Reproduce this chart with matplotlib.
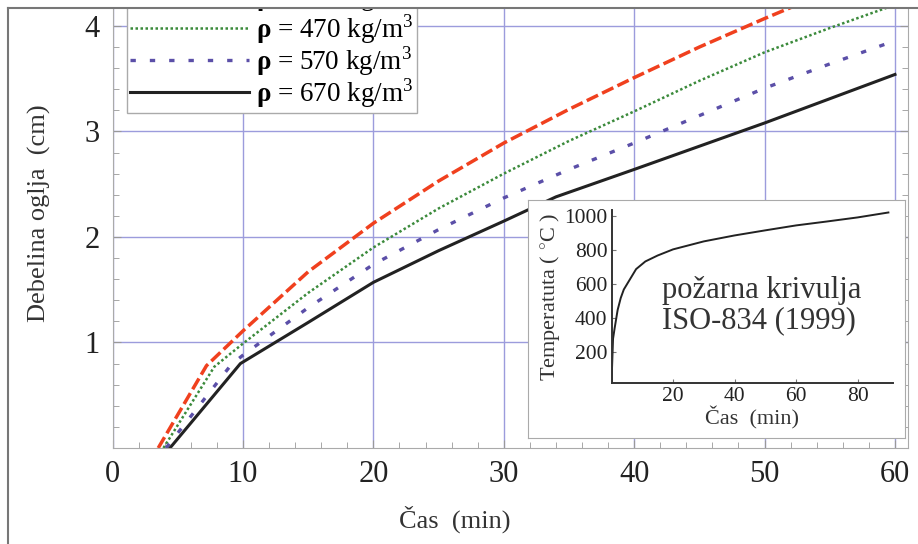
import matplotlib
matplotlib.use("Agg")
import matplotlib.pyplot as plt
from matplotlib.lines import Line2D
from matplotlib.patches import Rectangle
import numpy as np

plt.rcParams['font.family'] = ['Liberation Serif', 'DejaVu Serif']
plt.rcParams['mathtext.fontset'] = 'custom'
plt.rcParams['mathtext.rm'] = 'Liberation Serif'
plt.rcParams['mathtext.bf'] = 'Liberation Serif:bold'

# debelina oglja (cm) v odvisnosti od casa (min), odčitano iz slike
t_370 = [3.5, 7.2, 10, 15, 20, 25, 30, 35, 40, 45, 50, 55]
d_370 = [0.0, 0.78, 1.11, 1.67, 2.13, 2.53, 2.89, 3.21, 3.51, 3.80, 4.07, 4.33]

t_470 = [3.9, 7.8, 10, 15, 20, 25, 30, 35, 40, 45, 50, 55, 60]
d_470 = [0.0, 0.77, 0.99, 1.47, 1.90, 2.27, 2.60, 2.91, 3.19, 3.48, 3.75, 3.98, 4.20]

t_570 = [4.1, 9.1, 10, 15, 20, 25, 30, 35, 40, 45, 50, 55, 60]
d_570 = [0.0, 0.79, 0.88, 1.33, 1.74, 2.07, 2.37, 2.64, 2.89, 3.15, 3.41, 3.64, 3.86]

t_670 = [4.4, 9.8, 15, 20, 25, 30, 34, 40, 45, 50, 55, 60]
d_670 = [0.0, 0.80, 1.19, 1.57, 1.87, 2.15, 2.38, 2.64, 2.86, 3.08, 3.31, 3.54]

# ISO-834 pozarna krivulja (odčitano)
t_iso = [0, 0.5, 1, 2, 3, 4, 6, 8, 11, 15, 20, 30, 40, 50, 60, 70, 80, 90]
T_iso = [20, 280, 340, 450, 520, 570, 630, 690, 735, 770, 806, 853, 888, 918, 947, 970, 994, 1023]

W, H = 918, 544
fig = plt.figure(figsize=(W / 100, H / 100), dpi=100)

# glavni graf
ax = fig.add_axes([112.6 / W, 96 / H, 795.4 / W, 459 / H])
ax.set_xlim(0, 61)
ax.set_ylim(0, 4.35)

ax.plot(t_370, d_370, color='#f0401e', lw=2.5, linestyle=(0, (3.6, 1.3)),
        label=r'$\mathbf{\rho}$ = 370 kg/m$^3$')
ax.plot(t_470, d_470, color='#3b8a3b', lw=1.8, linestyle=(0, (1, 1)),
        label=r'$\mathbf{\rho}$ = 470 kg/m$^3$')
ax.plot(t_570, d_570, color='#5b4fa8', lw=2.4, linestyle=(0, (1.6, 4.2)),
        label=r'$\mathbf{\rho}$ = 570 kg/m$^3$')
ax.plot(t_670, d_670, color='#222222', lw=2.2,
        label=r'$\mathbf{\rho}$ = 670 kg/m$^3$')

ax.set_xticks(range(0, 61, 10))
ax.set_xticks(np.arange(0, 61, 2), minor=True)
ax.set_yticks([1, 2, 3, 4])
ax.set_yticks(np.arange(0, 4.4, 0.2), minor=True)
ax.tick_params(which='both', direction='in', right=True, top=False,
               color='#999999', labelcolor='#222222', labelsize=22)
ax.tick_params(which='major', length=6, pad=9)
ax.tick_params(which='minor', length=4)
ax.grid(True, which='major', color='#9c9cdc', lw=1.0)
for s in ax.spines.values():
    s.set_color('#aaaaaa')

ax.set_xlabel('Čas  (min)', fontsize=19, color='#333333')
ax.xaxis.set_label_coords(0.43, -0.125)
ax.set_ylabel('Debelina oglja  (cm)', fontsize=19, color='#333333')
ax.yaxis.set_label_coords(-0.077, 0.512)

leg = ax.legend(loc='lower left', bbox_to_anchor=(0.018, 0.730), borderaxespad=0,
                fontsize=19.5, handlelength=4.4, handletextpad=0.25, labelspacing=-0.08,
                borderpad=0.12, fancybox=False, framealpha=1, edgecolor='#aaaaaa')

# okvir vložka
box = fig.add_axes([528 / W, 1 - 438 / H, 377 / W, 238 / H])
box.set_xticks([])
box.set_yticks([])
for s in box.spines.values():
    s.set_color('#aaaaaa')

ins = fig.add_axes([611.5 / W, 1 - 383 / H, 281.5 / W, 173.4 / H])
ins.set_xlim(0, 91.5)
ins.set_ylim(20, 1040)
ins.patch.set_alpha(0)
ins.plot(t_iso, T_iso, color='#222222', lw=1.4)
ins.spines['top'].set_visible(False)
ins.spines['right'].set_visible(False)
for s in ('left', 'bottom'):
    ins.spines[s].set_color('#333333')
    ins.spines[s].set_linewidth(1.4)
ins.set_xticks([20, 40, 60, 80])
ins.set_yticks([200, 400, 600, 800, 1000])
ins.tick_params(direction='in', length=3, color='#777777', labelsize=15.5,
                labelcolor='#222222', pad=3)
ins.set_xlabel('Čas  (min)', fontsize=16, color='#333333', labelpad=0)
ins.set_ylabel('Temperatuta ( $^{\\circ}$C )', fontsize=16, color='#333333', labelpad=1)
ins.text(0.18, 0.448, 'požarna krivulja\nISO-834 (1999)', transform=ins.transAxes,
         fontsize=22, color='#333333', ha='left', va='center', linespacing=1.05)

# izrez slike: bel rob zgoraj in siv okvir
fig.add_artist(Rectangle((0, 1 - 8 / H), 1, 8 / H, transform=fig.transFigure,
                         facecolor='white', edgecolor='none', zorder=10))
fig.add_artist(Line2D([8 / W, 1], [1 - 8 / H, 1 - 8 / H], transform=fig.transFigure,
                      color='#777777', lw=1.5, zorder=11))
fig.add_artist(Line2D([8 / W, 8 / W], [0, 1 - 8 / H], transform=fig.transFigure,
                      color='#777777', lw=1.5, zorder=11))

fig.savefig('out.png', dpi=100)
